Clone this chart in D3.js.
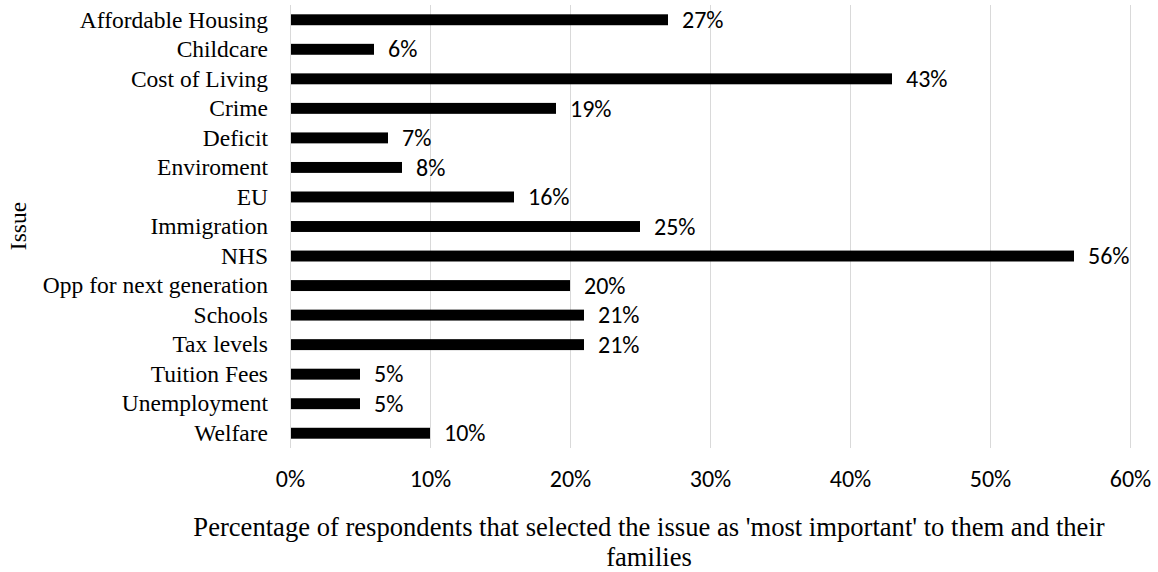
<!DOCTYPE html>
<html>
<head>
<meta charset="utf-8">
<script src="https://cdn.jsdelivr.net/npm/d3@7"></script>
<style>
  html, body { margin: 0; padding: 0; background: #fff; }
  svg { display: block; }
</style>
</head>
<body>
<svg id="chart" width="1158" height="572"></svg>
<script>
const categories = ["Affordable Housing", "Childcare", "Cost of Living", "Crime", "Deficit", "Enviroment", "EU ", "Immigration", "NHS", "Opp for next generation", "Schools", "Tax levels", "Tuition Fees", "Unemployment", "Welfare"];
const values = [27, 6, 43, 19, 7, 8, 16, 25, 56, 20, 21, 21, 5, 5, 10];
const xTicks = [0, 10, 20, 30, 40, 50, 60];
const xTitleLines = ["Percentage of respondents that selected the issue as 'most important' to them and their", "families"];
const yTitle = "Issue";

const svg = d3.select("#chart");
const serif = "'Liberation Serif', 'Times New Roman', serif";
const sans = "Carlito, Calibri, 'Open Sans', sans-serif";

const x = d3.scaleLinear().domain([0, 60]).range([290, 1130]);
const y = d3.scaleBand().domain(categories).range([5, 448]).paddingInner(0.63).paddingOuter(0.315);

// gridlines
svg.append("g").selectAll("line").data(xTicks).join("line")
  .attr("x1", d => x(d) + 0.5).attr("x2", d => x(d) + 0.5)
  .attr("y1", 5).attr("y2", 448)
  .attr("stroke", "#d9d9d9").attr("stroke-width", 1);

// bars
svg.append("g").selectAll("rect").data(values).join("rect")
  .attr("x", x(0) + 1)
  .attr("y", (d, i) => y(categories[i]))
  .attr("width", d => x(d) - x(0) - 1)
  .attr("height", y.bandwidth())
  .attr("fill", "#000");

// value labels
svg.append("g").selectAll("text").data(values).join("text")
  .attr("x", d => x(d) + 14)
  .attr("y", (d, i) => y(categories[i]) + y.bandwidth() / 2)
  .attr("dy", "0.34em")
  .attr("font-family", sans).attr("font-size", 24).attr("fill", "#000")
  .text(d => d + "%");

// category labels
const yAxis = d3.axisLeft(y).tickSize(0).tickPadding(0);
const yg = svg.append("g").attr("transform", "translate(268,0)").call(yAxis);
yg.select(".domain").remove();
yg.selectAll("text").attr("font-family", serif).attr("font-size", 23.5).attr("fill", "#000").attr("dy", "0.33em");

// x tick labels
const xAxis = d3.axisBottom(x).tickValues(xTicks).tickFormat(d => d + "%").tickSize(0).tickPadding(0);
const xg = svg.append("g").attr("transform", "translate(0,487)").call(xAxis);
xg.select(".domain").remove();
xg.selectAll("text").attr("y", 0).attr("dy", 0).attr("font-family", sans).attr("font-size", 24).attr("fill", "#000");

// x title
svg.append("g").selectAll("text").data(xTitleLines).join("text")
  .attr("x", 649)
  .attr("y", (d, i) => 536 + i * 30)
  .attr("text-anchor", "middle")
  .attr("font-family", serif).attr("font-size", 26.6).attr("fill", "#000")
  .text(d => d);

// y title
svg.append("text")
  .attr("transform", "translate(26,226) rotate(-90)")
  .attr("text-anchor", "middle")
  .attr("font-family", serif).attr("font-size", 23.5).attr("fill", "#000")
  .text(yTitle);
</script>
</body>
</html>
